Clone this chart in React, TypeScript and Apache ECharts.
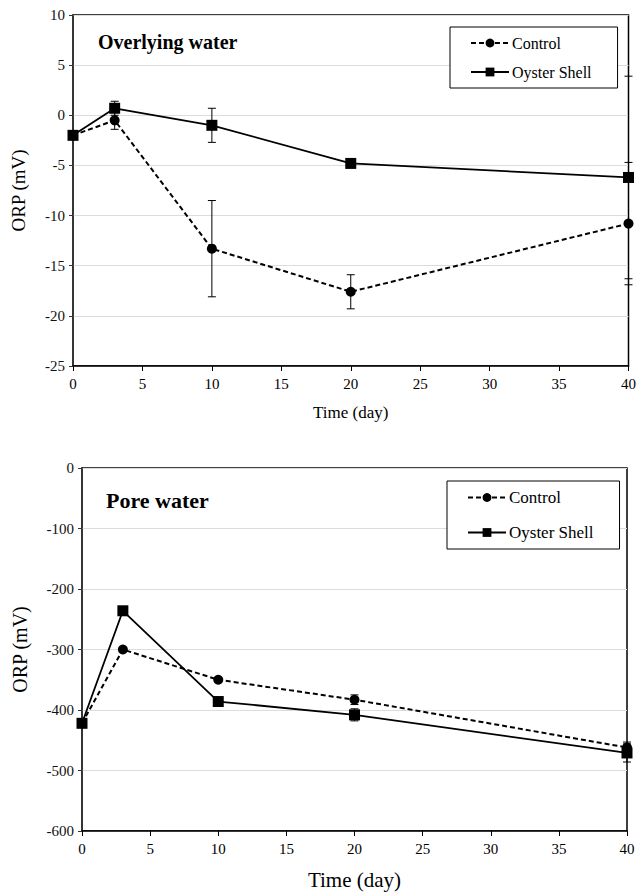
import React, { useEffect, useRef } from "react";
import * as echarts from "echarts";

// Sampling days
const days = [0, 3, 10, 20, 40];

// Overlying water ORP (mV), mean and ± error
const overControl = [-2.0, -0.5, -13.3, -17.6, -10.8];
const overControlErr = [0, 0.9, 4.8, 1.7, 6.1];
const overShell = [-2.0, 0.7, -1.0, -4.8, -6.2];
const overShellErr = [0, 0.7, 1.7, 0, 10.1];

// Pore water ORP (mV), mean and ± error
const poreControl = [-422, -300, -350, -383, -462];
const poreControlErr = [0, 0, 0, 8, 9];
const poreShell = [-422, -236, -386, -408, -471];
const poreShellErr = [0, 0, 0, 10, 15];

const seriesNames = ["Control", "Oyster Shell"];
const panelTitles = ["Overlying water", "Pore water"];
const xAxisTitle = "Time (day)";
const yAxisTitle = "ORP (mV)";

const FONT = "'Liberation Serif', 'Times New Roman', 'DejaVu Serif', serif";

const pairs = (vals: number[]) => days.map((d, i) => [d, vals[i]]);
const errRows = (vals: number[], errs: number[]) =>
  days
    .map((d, i) => [d, vals[i] - errs[i], vals[i] + errs[i]])
    .filter((_, i) => errs[i] > 0);

const errorBarSeries = (data: number[][], axis: number) => ({
  type: "custom",
  xAxisIndex: axis,
  yAxisIndex: axis,
  z: 1,
  silent: true,
  data,
  renderItem: (_params: any, api: any) => {
    const x = api.value(0);
    const top = api.coord([x, api.value(2)]);
    const bot = api.coord([x, api.value(1)]);
    const w = 4;
    const style = { stroke: "#000", lineWidth: 1 };
    return {
      type: "group",
      children: [
        { type: "line", shape: { x1: top[0], y1: top[1], x2: bot[0], y2: bot[1] }, style },
        { type: "line", shape: { x1: top[0] - w, y1: top[1], x2: top[0] + w, y2: top[1] }, style },
        { type: "line", shape: { x1: bot[0] - w, y1: bot[1], x2: bot[0] + w, y2: bot[1] }, style },
      ],
    };
  },
});

const lineSeries = (name: string, vals: number[], axis: number, dashed: boolean) => ({
  type: "line",
  name,
  xAxisIndex: axis,
  yAxisIndex: axis,
  z: dashed ? 2 : 3,
  data: pairs(vals),
  symbol: dashed ? "circle" : "rect",
  symbolSize: dashed ? 10 : 11,
  showSymbol: true,
  itemStyle: { color: "#000" },
  lineStyle: { color: "#000", width: dashed ? 2 : 1.8, type: dashed ? [5, 3] : "solid" },
});

const xAxisDef = (grid: number, labelSize: number, nameSize: number, nameGap: number) => ({
  type: "value",
  gridIndex: grid,
  min: 0,
  max: 40,
  interval: 5,
  name: xAxisTitle,
  nameLocation: "middle",
  nameGap,
  nameTextStyle: { fontFamily: FONT, fontSize: nameSize, color: "#000" },
  axisLine: { show: true, onZero: false, lineStyle: { color: "#000", width: 1.5 } },
  axisTick: { show: true, inside: false, length: 5, lineStyle: { color: "#000" } },
  axisLabel: { fontFamily: FONT, fontSize: labelSize, color: "#000", margin: 10 },
  splitLine: { show: false },
});

const yAxisDef = (
  grid: number,
  min: number,
  max: number,
  interval: number,
  nameSize: number,
  nameGap: number
) => ({
  type: "value",
  gridIndex: grid,
  min,
  max,
  interval,
  name: yAxisTitle,
  nameLocation: "middle",
  nameGap,
  nameTextStyle: { fontFamily: FONT, fontSize: nameSize, color: "#000" },
  axisLine: { show: true, onZero: false, lineStyle: { color: "#333", width: 1.5 } },
  axisTick: { show: true, inside: false, length: 4, lineStyle: { color: "#333" } },
  axisLabel: { fontFamily: FONT, fontSize: 15, color: "#111", margin: 8 },
  splitLine: { show: true, lineStyle: { color: "#dcdcdc", width: 1.2 } },
});

const legendDef = (left: number, top: number, gap: number, size: number) => ({
  orient: "vertical",
  left,
  top,
  data: seriesNames,
  itemWidth: 38,
  itemHeight: 11,
  itemGap: gap,
  padding: [8, 26, 8, 20],
  backgroundColor: "#fff",
  borderColor: "#000",
  borderWidth: 1,
  borderRadius: 0,
  selectedMode: false,
  textStyle: { fontFamily: FONT, fontSize: size, color: "#000", padding: [0, 0, 0, -2] },
});

export default function App() {
  const ref = useRef<HTMLDivElement>(null);

  useEffect(() => {
    if (!ref.current) return;
    const chart = echarts.init(ref.current, undefined, { renderer: "svg" });
    chart.setOption({
      animation: false,
      backgroundColor: "#fff",
      textStyle: { fontFamily: FONT },
      grid: [
        { left: 73, top: 15, width: 557, height: 351, show: true, borderColor: "#000", borderWidth: 1.5 },
        { left: 82, top: 468, width: 545, height: 363, show: true, borderColor: "#000", borderWidth: 1.5 },
      ],
      xAxis: [xAxisDef(0, 15, 17, 38), xAxisDef(1, 15, 21, 38)],
      yAxis: [yAxisDef(0, -25, 10, 5, 19, 45), yAxisDef(1, -600, 0, 100, 20, 52)],
      legend: [legendDef(450, 27, 13, 16), legendDef(447, 481, 18, 17)],
      graphic: [
        {
          type: "text",
          left: 98,
          top: 32,
          style: { text: panelTitles[0], fontFamily: FONT, fontSize: 20, fontWeight: "bold", fill: "#000" },
        },
        {
          type: "text",
          left: 106,
          top: 489,
          style: { text: panelTitles[1], fontFamily: FONT, fontSize: 22, fontWeight: "bold", fill: "#000" },
        },
      ],
      series: [
        errorBarSeries(errRows(overControl, overControlErr), 0),
        errorBarSeries(errRows(overShell, overShellErr), 0),
        lineSeries(seriesNames[0], overControl, 0, true),
        lineSeries(seriesNames[1], overShell, 0, false),
        errorBarSeries(errRows(poreControl, poreControlErr), 1),
        errorBarSeries(errRows(poreShell, poreShellErr), 1),
        lineSeries(seriesNames[0], poreControl, 1, true),
        lineSeries(seriesNames[1], poreShell, 1, false),
      ],
    });
    return () => chart.dispose();
  }, []);

  return (
    <div
      ref={ref}
      style={{ position: "fixed", left: 0, top: 0, width: 639, height: 892, background: "#fff" }}
    />
  );
}
